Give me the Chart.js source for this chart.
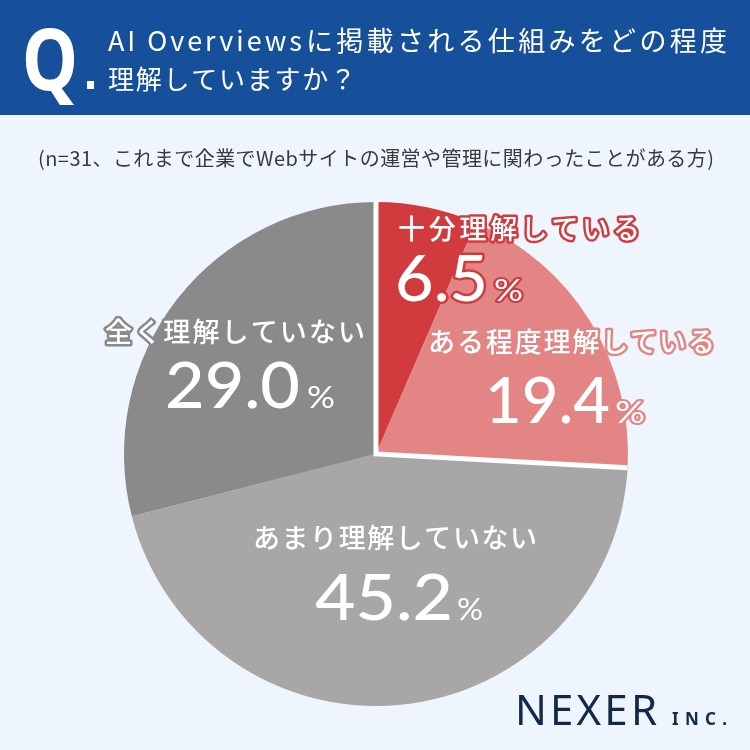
<!DOCTYPE html>
<html>
<head>
<meta charset="utf-8">
<script src="https://cdn.jsdelivr.net/npm/chart.js@4.4.0/dist/chart.umd.min.js"></script>
<style>
  html, body { margin: 0; padding: 0; background: #eef5fd; }
  #wrap { width: 750px; height: 750px; position: relative; }
</style>
</head>
<body>
<div id="wrap"><canvas id="pieChart" width="750" height="750"></canvas></div>
<script>
// data
const categories = ['十分理解している', 'ある程度理解している', 'あまり理解していない', '全く理解していない'];
const percents = [6.5, 19.4, 45.2, 29.0];
const sliceColors = ['#d13b3e', '#e38585', '#a8a6a7', '#8a8a8a'];
const titleLatin = 'AI Overviews';
const titleLines = ['に掲載される仕組みをどの程度', '理解していますか？'];
const subtitle = '(n=31、これまで企業でWebサイトの運営や管理に関わったことがある方)';

// label placement (name: left, width, centre y / number: left, width, baseline / % : left, width)
const labelLayout = [
  { nx: 398, nw: 242, ny: 229, vx: 395, vw: 93, vy: 301, px: 494, pw: 29, outline: '#d13b3e' },
  { nx: 428, nw: 287, ny: 342, vx: 485, vw: 125, vy: 423, px: 615, pw: 30, outline: '#e38585' },
  { nx: 253, nw: 284, ny: 538, vx: 315, vw: 138, vy: 620, px: 457, pw: 26, outline: null },
  { nx: 105, nw: 260, ny: 332, vx: 165, vw: 135, vy: 408, px: 307, pw: 28, outline: '#8a8a8a' }
];

function fitText(ctx, text, x, y, width, stroke) {
  ctx.letterSpacing = '0px';
  const w0 = ctx.measureText(text).width;
  const n = [...text].length;
  let ls = n > 1 ? (width - w0) / (n - 1) : 0;
  ctx.save();
  if (ls >= 0) {
    ctx.letterSpacing = ls + 'px';
    ctx.translate(x, y);
  } else {
    ctx.translate(x, y);
    ctx.scale(width / w0, 1);
  }
  if (stroke) ctx.strokeText(text, 0, 0);
  ctx.fillText(text, 0, 0);
  ctx.restore();
}

function fitScaled(ctx, text, x, y, width, stroke) {
  ctx.letterSpacing = '0px';
  const w0 = ctx.measureText(text).width;
  ctx.save();
  ctx.translate(x, y);
  ctx.scale(width / w0, 1);
  if (stroke) ctx.strokeText(text, 0, 0);
  ctx.fillText(text, 0, 0);
  ctx.restore();
}

const backdrop = {
  id: 'backdrop',
  beforeDraw(chart) {
    const ctx = chart.ctx;
    ctx.save();
    ctx.fillStyle = '#eef5fd';
    ctx.fillRect(0, 0, 750, 750);
    ctx.fillStyle = '#16509b';
    ctx.fillRect(0, 0, 750, 115);

    ctx.fillStyle = '#ffffff';
    ctx.textAlign = 'left';
    ctx.textBaseline = 'alphabetic';
    ctx.font = 'bold 86px "Noto Sans"';
    fitScaled(ctx, 'Q', 22, 90, 56, false);
    ctx.fillRect(87, 81, 7, 8);

    ctx.textBaseline = 'middle';
    ctx.font = '27px "Noto Sans CJK JP"';
    fitText(ctx, titleLatin, 108, 41, 194, false);
    fitText(ctx, titleLines[0], 306, 41, 421, false);
    ctx.font = '26px "Noto Sans CJK JP"';
    fitText(ctx, titleLines[1], 108, 79, 248, false);

    ctx.fillStyle = '#3a3a3a';
    ctx.font = '20px "Noto Sans CJK JP"';
    fitText(ctx, subtitle, 38, 158, 676, false);

    ctx.fillStyle = '#13294b';
    ctx.textBaseline = 'alphabetic';
    ctx.font = '42px "Noto Sans"';
    fitText(ctx, 'NEXER', 515, 725, 142, false);
    ctx.font = 'bold 17px "Noto Sans"';
    fitText(ctx, 'INC.', 672, 725, 55, false);
    ctx.restore();
  }
};

// white gaps only around the two "understand" slices, following the arcs' own angles
const gapLines = {
  id: 'gapLines',
  afterDatasetsDraw(chart) {
    const arcs = chart.getDatasetMeta(0).data;
    const ctx = chart.ctx;
    const a = arcs[0].getProps(['x', 'y', 'startAngle', 'outerRadius']);
    const b = arcs[1].getProps(['endAngle']);
    const r = a.outerRadius;
    ctx.save();
    ctx.strokeStyle = '#ffffff';
    ctx.lineWidth = 5;
    ctx.lineJoin = 'miter';
    ctx.beginPath();
    ctx.arc(a.x, a.y, r, 0, Math.PI * 2);
    ctx.clip();
    ctx.beginPath();
    ctx.moveTo(a.x + r * Math.cos(a.startAngle), a.y + r * Math.sin(a.startAngle));
    ctx.lineTo(a.x, a.y);
    ctx.lineTo(a.x + r * Math.cos(b.endAngle), a.y + r * Math.sin(b.endAngle));
    ctx.stroke();
    ctx.restore();
  }
};

const sliceLabels = {
  id: 'sliceLabels',
  afterDraw(chart) {
    const ctx = chart.ctx;
    ctx.save();
    ctx.lineJoin = 'round';
    ctx.textAlign = 'left';
    categories.forEach((name, i) => {
      const L = labelLayout[i];
      ctx.fillStyle = '#ffffff';
      ctx.strokeStyle = L.outline || 'rgba(0,0,0,0)';
      ctx.lineWidth = 5;
      ctx.textBaseline = 'middle';
      ctx.font = '500 27px "Noto Sans CJK JP"';
      fitText(ctx, name, L.nx, L.ny, L.nw, !!L.outline);
      ctx.textBaseline = 'alphabetic';
      ctx.font = '500 64px "Lato"';
      fitScaled(ctx, percents[i].toFixed(1), L.vx, L.vy, L.vw, !!L.outline);
      ctx.font = '30px "Lato"';
      ctx.lineWidth = 4;
      fitScaled(ctx, '%', L.px, L.vy, L.pw, !!L.outline);
    });
    ctx.restore();
  }
};

new Chart(document.getElementById('pieChart'), {
  type: 'pie',
  data: {
    labels: categories,
    datasets: [{
      data: percents,
      backgroundColor: sliceColors,
      borderWidth: 0
    }]
  },
  options: {
    responsive: false,
    animation: false,
    events: [],
    layout: { padding: { left: 124, top: 202, right: 122, bottom: 44 } },
    plugins: {
      legend: { display: false },
      tooltip: { enabled: false }
    }
  },
  plugins: [backdrop, gapLines, sliceLabels]
});
</script>
</body>
</html>
